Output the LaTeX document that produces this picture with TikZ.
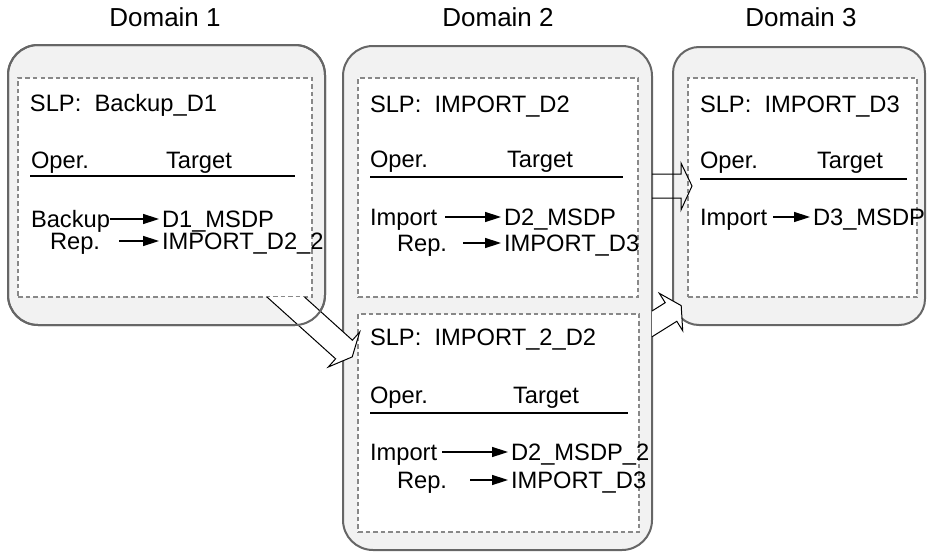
\documentclass[tikz,border=0pt]{standalone}
\usepackage{fontspec}
\setmainfont{Liberation Sans}
\usetikzlibrary{arrows.meta}
\definecolor{domfill}{HTML}{F2F2F2}
\definecolor{domline}{HTML}{666666}
\definecolor{dashline}{HTML}{888888}
\begin{document}
\begin{tikzpicture}[x=1pt,y=-1pt,
  dombox/.style={draw=domline, fill=domfill, line width=2pt, rounded corners=30pt, inner sep=0, outer sep=0},
  domoutline/.style={draw=domline, line width=2pt, rounded corners=30pt},
  slpbox/.style={draw=dashline, fill=white, line width=1.8pt, dash pattern=on 4.5pt off 3pt, inner sep=0, outer sep=0},
  ttl/.style={font=\fontsize{26}{30}\selectfont, anchor=base, inner sep=0},
  txt/.style={font=\fontsize{23.7}{28}\selectfont, anchor=base west, inner sep=0, outer sep=0, text height=16pt, text depth=0pt},
  underrule/.style={line width=1.6pt},
  oparrow/.style={line width=1.5pt, -{Triangle[length=16pt,width=10pt]}, shorten >=3pt},
  blockarrow/.style={draw=black, line width=1pt, line join=miter},
]
\useasboundingbox (0,0) rectangle (927,554);

% titles
\node[ttl] (t1) at (165,27) {Domain 1};
\node[ttl] (t2) at (498,27) {Domain 2};
\node[ttl] (t3) at (801,27) {Domain 3};

% domain boxes
\node[dombox, minimum width=317pt, minimum height=280pt] (dom1) at (166.5,185) {};
\node[dombox, minimum width=309pt, minimum height=504pt] (dom2) at (497.5,298) {};
\node[dombox, rounded corners=26pt, minimum width=252pt, minimum height=278pt] (dom3) at (799,186) {};

% SLP boxes
\node[slpbox, minimum width=294pt, minimum height=219pt] (s1) at (165,187.5) {};
\node[slpbox, minimum width=280pt, minimum height=219pt] (s2) at (498,187.5) {};
\node[slpbox, minimum width=281pt, minimum height=218pt] (s3) at (498.5,423) {};
\node[slpbox, minimum width=229pt, minimum height=219pt] (s4) at (802.5,187.5) {};

% Domain 1 contents
\node[txt] (slp1) at (30,111) {SLP:\ \ Backup\_D1};
\node[txt] (op1) at (31,168) {Oper.};
\node[txt] (tg1) at (166,168) {Target};
\draw[underrule] (30,176) -- (295,176);
\node[txt] (a1) at (31,227) {Backup};
\node[txt] (b1) at (162,227) {D1\_MSDP};
\node[txt] (c1) at (50,249) {Rep.};
\node[txt] (d1) at (162,249) {IMPORT\_D2\_2};
\draw[oparrow] (a1.east) -- (b1.west);
\draw[oparrow] ([xshift=19pt]c1.east) -- (d1.west);

% Domain 2 upper contents
\node[txt] (slp2) at (370,112) {SLP:\ \ IMPORT\_D2};
\node[txt] (op2) at (370,167) {Oper.};
\node[txt] (tg2) at (507,167) {Target};
\draw[underrule] (370,177) -- (623,177);
\node[txt] (a2) at (370,225) {Import};
\node[txt] (b2) at (504,225) {D2\_MSDP};
\node[txt] (c2) at (397,251) {Rep.};
\node[txt] (d2) at (504,251) {IMPORT\_D3};
\draw[oparrow] ([xshift=8pt]a2.east) -- (b2.west);
\draw[oparrow] ([xshift=16pt]c2.east) -- (d2.west);

% Domain 2 lower contents
\node[txt] (slp3) at (370,345) {SLP:\ \ IMPORT\_2\_D2};
\node[txt] (op3) at (370,403) {Oper.};
\node[txt] (tg3) at (513,403) {Target};
\draw[underrule] (370,413) -- (628,413);
\node[txt] (a3) at (370,460) {Import};
\node[txt] (b3) at (511,460) {D2\_MSDP\_2};
\node[txt] (c3) at (397,488) {Rep.};
\node[txt] (d3) at (511,488) {IMPORT\_D3};
\draw[oparrow] ([xshift=5pt]a3.east) -- (b3.west);
\draw[oparrow] ([xshift=23pt]c3.east) -- (d3.west);

% Domain 3 contents
\node[txt] (slp4) at (700,112) {SLP:\ \ IMPORT\_D3};
\node[txt] (op4) at (700,168) {Oper.};
\node[txt] (tg4) at (817,168) {Target};
\draw[underrule] (700,179) -- (907,179);
\node[txt] (a4) at (700,225) {Import};
\node[txt] (b4) at (813,225) {D3\_MSDP};
\draw[oparrow] ([xshift=6pt]a4.east) -- (b4.west);

% block arrows
\draw[blockarrow] (652,174) -- (681,174) -- (681,163) -- (692,186) -- (681,210) -- (681,198) -- (652,198);
\filldraw[blockarrow, fill=white] (267,297) -- (335.6,358.8) -- (328.3,367) -- (352.2,356.9) -- (359.7,332) -- (352.4,340.2) -- (304.5,297);
\draw[domoutline] (dom1.south west) rectangle (dom1.north east);
\filldraw[blockarrow, fill=white] (652,311) -- (665.2,302.7) -- (659.3,293.3) -- (681.2,305.6) -- (682.7,330.7) -- (676.8,321.3) -- (652,336.8);
\end{tikzpicture}
\end{document}
